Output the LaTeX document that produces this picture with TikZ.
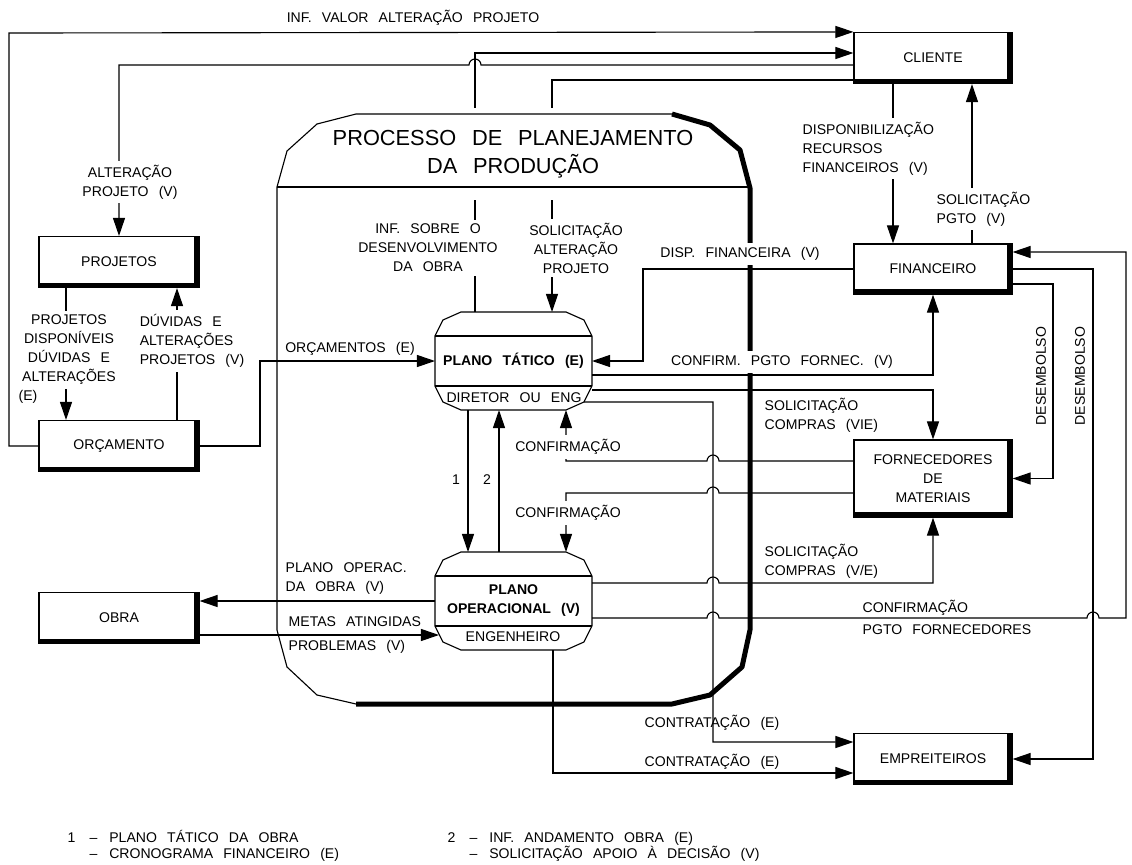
\documentclass[tikz,border=0pt]{standalone}
\usepackage{fontspec}
\setmainfont{Liberation Sans}[WordSpace=2.6]
\usetikzlibrary{arrows.meta}

\newcommand{\contorno}[1]{%
  \draw[ln] (#1.north west) ++(26,0) -- ++(105,0) -- ++(18,8) -- ++(8,16)
    -- ++(0,50) -- ++(-8,16) -- ++(-18,8) -- ++(-105,0) -- ++(-18,-8)
    -- ++(-8,-16) -- ++(0,-50) -- ++(8,-16) -- cycle;
  \draw[ln] (#1.north west) ++(0,24) -- ++(157,0);
  \draw[ln] (#1.south west) ++(0,-24) -- ++(157,0);}

\begin{document}
\begin{tikzpicture}[x=0.025cm, y=-0.025cm,
          box/.style={draw, line width=0.8pt, minimum width=3.95cm,
                      minimum height=1.275cm, align=center,
                      font=\fontsize{10}{13.5}\selectfont,
                      path picture={\draw[line width=0.25cm]
                        (path picture bounding box.north east) --
                        (path picture bounding box.south east) --
                        (path picture bounding box.south west);}},
          plano/.style={minimum width=3.925cm, minimum height=2.45cm,
                        inner sep=0pt, outer sep=0pt, align=center,
                        font=\fontsize{10}{13.5}\selectfont\bfseries},
          lbl/.style={inner sep=1pt, align=center,
                      font=\fontsize{10}{13.5}\selectfont},
          cut/.style={lbl, fill=white, inner ysep=3pt},
          ln/.style={line width=0.8pt},
          arr/.style={-{Triangle[length=0.45cm, width=0.3cm]}, line width=0.8pt}
        ]
        \useasboundingbox (0,0) rectangle (1132,864);

        \node[box] (cliente) at (933,58) {CLIENTE};
        \node[box, minimum height=1.25cm] (financeiro) at (933,269) {FINANCEIRO};
        \node[box, minimum height=1.925cm]
              (fornecedores) at (933,478.5) {FORNECEDORES\\DE\\MATERIAIS};
        \node[box] (empreiteiros) at (933,759) {EMPREITEIROS};
        \node[box, minimum width=4cm] (projetos) at (119,262) {PROJETOS};
        \node[box, minimum width=4cm] (orcamento) at (119,446) {ORÇAMENTO};
        \node[box, minimum width=4cm] (obra) at (119,618) {OBRA};

        \node[plano] (tatico) at (513.5,361) {PLANO TÁTICO (E)};
        \node[plano] (operacional) at (513.5,601) {PLANO\\OPERACIONAL (V)};
        \contorno{tatico}
        \contorno{operacional}

        \draw[arr] (orcamento.west) -- (9,446) -- (9,33) -- (cliente.north west);
        \draw[arr] (tatico.north -| 475,0) -- (475,53) -- (cliente.west |- 0,53);
        \draw[arr] (cliente.west |- 0,65) -- (481,65)
              arc[start angle=0, end angle=180, radius=0.15cm]
              -- (119,65) -- (projetos.north);
        \draw[arr] (cliente.west |- 0,80) -- (552,80) -- (tatico.north -| 552,0);
        \draw[arr] (cliente.south -| 893,0) -- (financeiro.north -| 893,0);
        \draw[arr] (financeiro.north -| 972,0) -- (cliente.south -| 972,0);

        \draw[arr] (financeiro.west) -- (643,269) -- (643,361) -- (tatico.east);
        \draw[arr] (tatico.east |- 0,375) -- (933,375) -- (financeiro.south);
        \draw[arr] (tatico.east |- 0,390) -- (933,390) -- (fornecedores.north);
        \draw[arr] (financeiro.east |- 0,284) -- (1053,284) -- (1053,478.5)
              -- (fornecedores.east);
        \draw[arr] (financeiro.east) -- (1093,269) -- (1093,759) -- (empreiteiros.east);
        \draw[arr] (operacional.east |- 0,618) -- (707,618)
              arc[start angle=180, end angle=0, radius=0.15cm] -- (1087,618)
              arc[start angle=180, end angle=0, radius=0.15cm] -- (1126,618)
              -- (1126,252) -- (financeiro.east |- 0,252);

        \draw[arr] (fornecedores.west |- 0,461) -- (719,461)
              arc[start angle=0, end angle=180, radius=0.15cm]
              -- (566,461) -- (tatico.south -| 566,0);
        \draw[arr] (fornecedores.west |- 0,493) -- (719,493)
              arc[start angle=0, end angle=180, radius=0.15cm]
              -- (566,493) -- (operacional.north -| 566,0);
        \draw[arr] (operacional.east |- 0,583) -- (707,583)
              arc[start angle=180, end angle=0, radius=0.15cm]
              -- (933,583) -- (fornecedores.south);

        \draw[arr] ([shift={(-8,-8)}]tatico.south east) -- (713,402) -- (713,742)
              -- (empreiteiros.west |- 0,742);
        \draw[arr] (operacional.south -| 553,0) -- (553,773)
              -- (empreiteiros.west |- 0,773);

        \draw[arr] (tatico.south -| 468,0) -- (operacional.north -| 468,0);
        \draw[arr] (operacional.north -| 499,0) -- (tatico.south -| 499,0);

        \draw[arr] (projetos.south -| 66,0) -- (orcamento.north -| 66,0);
        \draw[arr] (orcamento.north -| 177,0) -- (projetos.south -| 177,0);
        \draw[arr] (orcamento.east) -- (260,446) -- (260,361) -- (tatico.west);

        \draw[arr] (operacional.west) -- (obra.east |- 0,601);
        \draw[arr] (obra.east |- 0,635) -- ([shift={(4,34)}]operacional.west);

        \node[fill=white, minimum width=11cm, minimum height=2.3cm, align=center,
              font=\fontsize{15.5}{20}\selectfont]
              (titulo) at (513,154) {PROCESSO DE PLANEJAMENTO\\DA PRODUÇÃO};

        \draw[ln] (672,114) -- (356,114) -- (317,124) -- (287,151) -- (277,187)
              -- (277,630) -- (287,667) -- (317,695) -- (356,704);
        \draw[line width=0.125cm, line join=round] (356,704) -- (672,704)
              -- (710,695) -- (742,667) -- (750,630) -- (750,188) -- (740,150)
              -- (710,125) -- (672,114);
        \draw[ln] (277,187) -- (750,187);

        \node[lbl] (valor) at (413,18) {INF. VALOR ALTERAÇÃO PROJETO};
        \node[cut] (altproj) at (130,182) {ALTERAÇÃO\\PROJETO (V)};
        \node[cut] (projdisp) at (69,350) {PROJETOS\\DISPONÍVEIS\\DÚVIDAS E\\ALTERAÇÕES};
        \node[lbl, anchor=west] (projdispe) at (17,397) {(E)};
        \node[cut, align=left] (duvidas) at (192,341) {DÚVIDAS E\\ALTERAÇÕES\\PROJETOS (V)};
        \node[lbl] (orcs) at (350,349) {ORÇAMENTOS (E)};
        \node[cut] (infobra) at (428,248) {INF. SOBRE O\\DESENVOLVIMENTO\\DA OBRA};
        \node[cut] (solalt) at (576,248) {SOLICITAÇÃO\\ALTERAÇÃO\\PROJETO};
        \node[cut, anchor=west, align=left]
              (disprec) at (801,148.5) {DISPONIBILIZAÇÃO\\RECURSOS\\FINANCEIROS (V)};
        \node[cut, anchor=west, align=left] (solpgto) at (935,209) {SOLICITAÇÃO\\PGTO (V)};
        \node[cut] (dispfin) at (740,254) {DISP. FINANCEIRA (V)};
        \node[cut] (confpgto) at (782,362) {CONFIRM. PGTO FORNEC. (V)};
        \node[lbl, anchor=west, align=left]
              (solcompra) at (763,415.5) {SOLICITAÇÃO\\COMPRAS (VIE)};
        \node[lbl, anchor=west, align=left]
              (solcompra2) at (763,561.5) {SOLICITAÇÃO\\COMPRAS (V/E)};
        \node[cut] (conf) at (568,447) {CONFIRMAÇÃO};
        \node[cut] (conf2) at (568,513) {CONFIRMAÇÃO};
        \node[lbl, anchor=west, align=left]
              (confforn) at (861,617) {CONFIRMAÇÃO\\[2pt]PGTO FORNECEDORES};
        \node[lbl, rotate=90] (desemb) at (1041,376) {DESEMBOLSO};
        \node[lbl, rotate=90] (desemb2) at (1080,376) {DESEMBOLSO};
        \node[lbl] (contr) at (712,723) {CONTRATAÇÃO (E)};
        \node[lbl] (contr2) at (712,762) {CONTRATAÇÃO (E)};
        \node[lbl, anchor=west, align=left]
              (planoop) at (284,579) {PLANO OPERAC.\\DA OBRA (V)};
        \node[lbl, anchor=west, align=left]
              (metas) at (287,635) {METAS ATINGIDAS\\[3.5pt]PROBLEMAS (V)};
        \node[lbl] (um) at (456,480) {1};
        \node[lbl] (dois) at (487,480) {2};
        \node[lbl] (diretor) at (514,398) {DIRETOR OU ENG};
        \node[lbl] (engenheiro) at (513,637) {ENGENHEIRO};

        \node[lbl, anchor=west] (nota1) at (66,847)
              {\begin{tabular}{@{}l@{\hspace{1em}}l@{\hspace{0.85em}}l@{}}
               1 & -- & PLANO TÁTICO DA OBRA\\[-2pt]
                 & -- & CRONOGRAMA FINANCEIRO (E)\end{tabular}};
        \node[lbl, anchor=west] (nota2) at (446,847)
              {\begin{tabular}{@{}l@{\hspace{1em}}l@{\hspace{0.85em}}l@{}}
               2 & -- & INF. ANDAMENTO OBRA (E)\\[-2pt]
                 & -- & SOLICITAÇÃO APOIO À DECISÃO (V)\end{tabular}};
      \end{tikzpicture}
\end{document}
